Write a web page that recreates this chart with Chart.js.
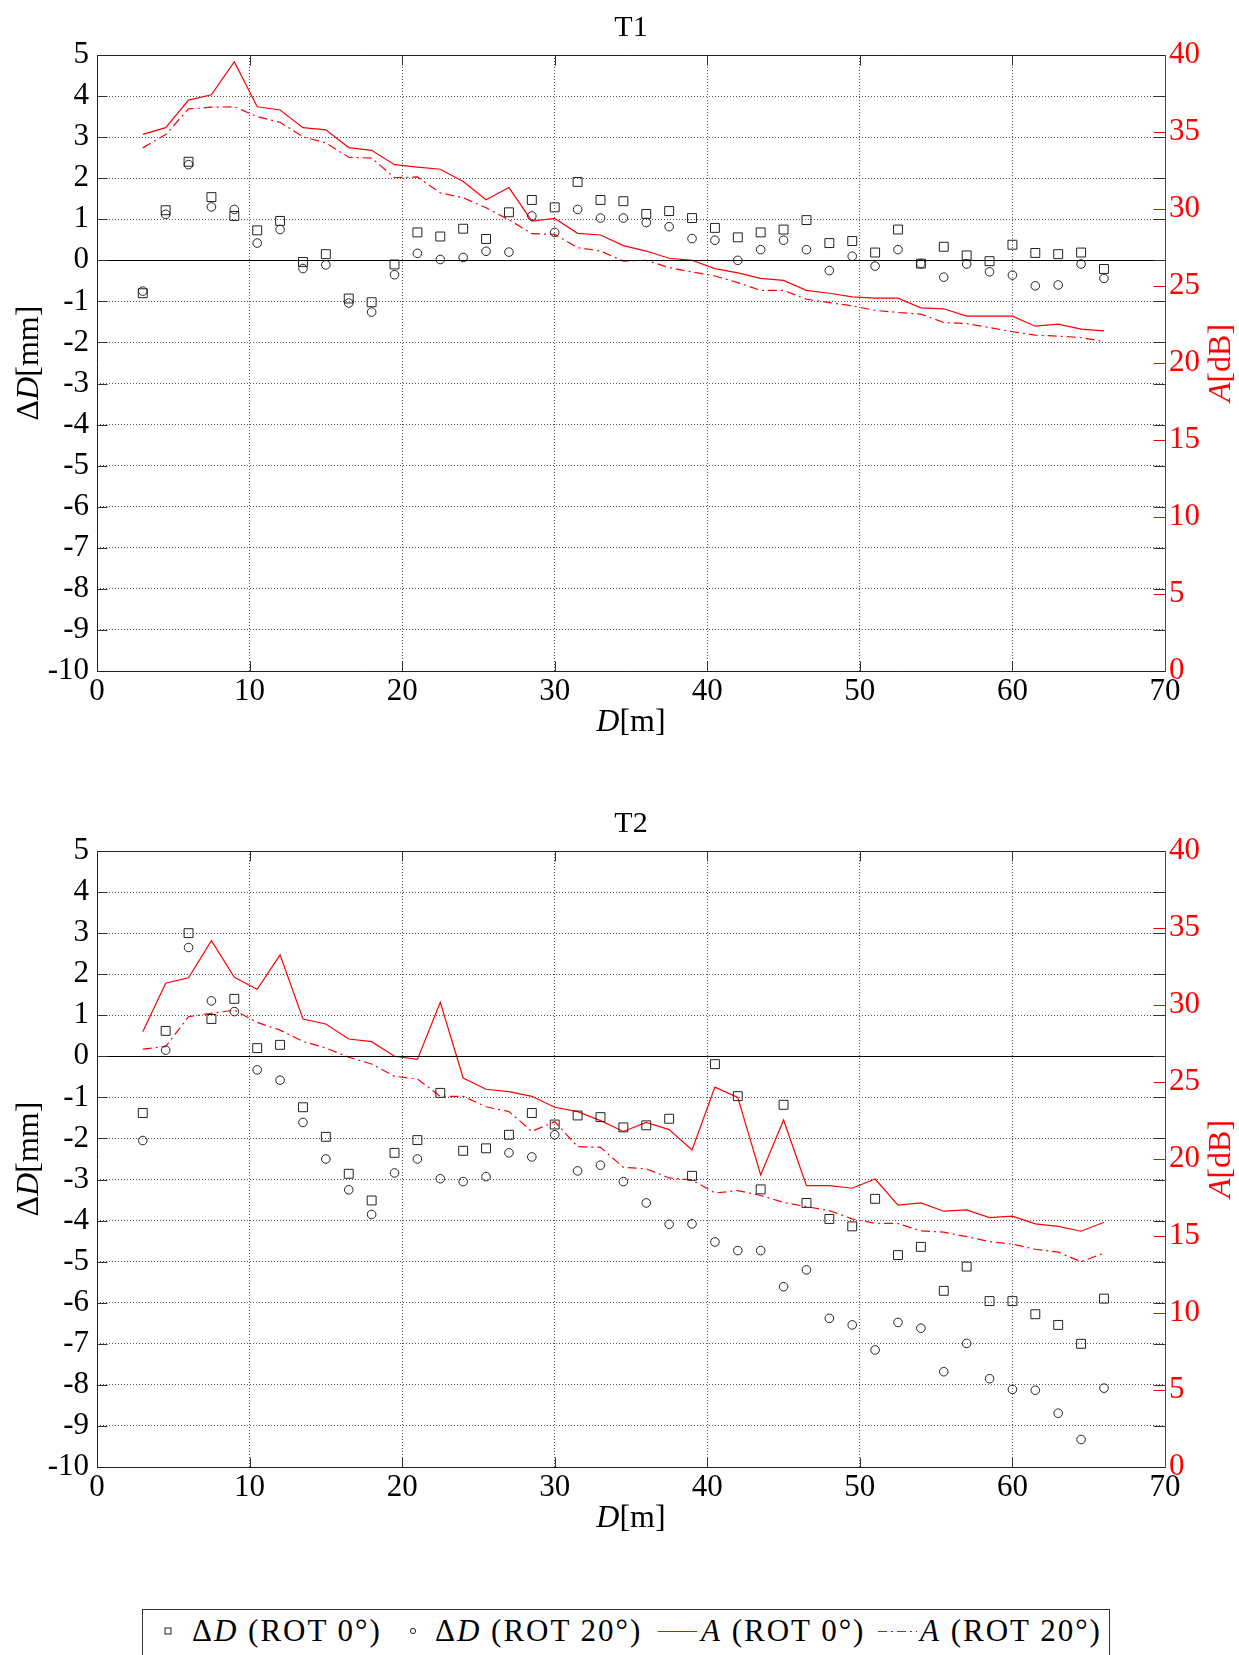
<!DOCTYPE html>
<html>
<head>
<meta charset="utf-8">
<title>T1 / T2 - ΔD and A versus D</title>
<script src="https://cdn.jsdelivr.net/npm/chart.js@4.4.1/dist/chart.umd.min.js"></script>
<style>
  body {
    margin: 0;
    background: #fff;
    width: 1239px;
    height: 1655px;
    position: relative;
    overflow: hidden;
    font-family: "Liberation Serif", serif;
  }
  canvas { position: absolute; left: 0; }
  #chartT1 { top: 0; }
  #chartT2 { top: 796px; }
  .legend {
    position: absolute;
    left: 142px;
    top: 1609px;
    width: 966px;
    height: 50px;
    border: 1px solid #333;
    background: #fff;
  }
  .legend span {
    position: absolute;
    top: 0;
    line-height: 42px;
    font-size: 31px;
    letter-spacing: 2px;
    white-space: nowrap;
    color: #000;
    font-family: "Liberation Serif", serif;
  }
  .legend svg { position: absolute; top: 11px; }
</style>
</head>
<body>
<canvas id="chartT1" width="1239" height="780"></canvas>
<canvas id="chartT2" width="1239" height="780"></canvas>

<div class="legend">
  <svg style="left:17px" width="16" height="20"><rect x="5" y="7" width="6" height="6" fill="none" stroke="#222" stroke-width="1"/></svg>
  <span style="left:49px">Δ<i>D</i> (ROT 0°)</span>
  <svg style="left:262px" width="16" height="20"><circle cx="8" cy="10" r="2.6" fill="none" stroke="#222" stroke-width="1"/></svg>
  <span style="left:292px">Δ<i>D</i> (ROT 20°)</span>
  <svg style="left:515px" width="40" height="20"><line x1="0" y1="10.5" x2="39" y2="10.5" stroke="#ff0000" stroke-width="1.2"/></svg>
  <span style="left:558px"><i>A</i> (ROT 0°)</span>
  <svg style="left:735px" width="40" height="20"><line x1="0" y1="10.5" x2="39" y2="10.5" stroke="#ff0000" stroke-width="1.2" stroke-dasharray="9,4,2,4"/></svg>
  <span style="left:777px"><i>A</i> (ROT 20°)</span>
</div>

<script>
/* ---------- Data ---------- */
const distances = [3, 4.5, 6, 7.5, 9, 10.5, 12, 13.5, 15, 16.5, 18, 19.5, 21, 22.5, 24, 25.5, 27,
  28.5, 30, 31.5, 33, 34.5, 36, 37.5, 39, 40.5, 42, 43.5, 45, 46.5, 48, 49.5, 51, 52.5,
  54, 55.5, 57, 58.5, 60, 61.5, 63, 64.5, 66];

// T1: ΔD [mm]
const t1DeltaRot0 = [-0.80, 1.22, 2.40, 1.54, 1.08, 0.73, 0.96, -0.04, 0.15, -0.93,
  -1.02, -0.10, 0.68, 0.58, 0.77, 0.52, 1.17, 1.47, 1.29, 1.91,
  1.47, 1.44, 1.13, 1.20, 1.03, 0.79, 0.56, 0.68, 0.75, 0.98,
  0.42, 0.47, 0.19, 0.75, -0.08, 0.33, 0.12, -0.02, 0.38, 0.18,
  0.15, 0.19, -0.21];
const t1DeltaRot20 = [-0.75, 1.12, 2.33, 1.30, 1.24, 0.42, 0.75, -0.20, -0.11, -1.04,
  -1.26, -0.35, 0.17, 0.02, 0.07, 0.22, 0.20, 1.08, 0.68, 1.24,
  1.03, 1.03, 0.92, 0.82, 0.53, 0.49, 0.00, 0.26, 0.49, 0.26,
  -0.25, 0.10, -0.14, 0.26, -0.08, -0.41, -0.09, -0.28, -0.36, -0.62,
  -0.60, -0.09, -0.44];
// T1: A [dB]
const t1AmpRot0 = [34.85, 35.28, 37.07, 37.42, 39.57, 36.64, 36.43, 35.28, 35.14, 33.99,
  33.81, 32.88, 32.72, 32.58, 31.79, 30.60, 31.39, 29.22, 29.39, 28.42,
  28.31, 27.62, 27.27, 26.80, 26.67, 26.13, 25.85, 25.50, 25.36, 24.72,
  24.53, 24.29, 24.21, 24.21, 23.58, 23.52, 23.04, 23.04, 23.04, 22.39,
  22.52, 22.20, 22.09];
const t1AmpRot20 = [33.97, 34.83, 36.50, 36.61, 36.64, 36.00, 35.63, 34.69, 34.29, 33.36,
  33.31, 32.03, 32.08, 31.05, 30.73, 30.08, 29.30, 28.40, 28.35, 27.49,
  27.27, 26.62, 26.67, 26.19, 25.91, 25.65, 25.22, 24.72, 24.72, 24.14,
  23.92, 23.71, 23.42, 23.28, 23.17, 22.63, 22.56, 22.30, 22.03, 21.81,
  21.74, 21.65, 21.39];

// T2: ΔD [mm]
const t2DeltaRot0 = [-1.38, 0.62, 3.00, 0.91, 1.40, 0.20, 0.28, -1.24, -1.96, -2.86,
  -3.51, -2.35, -2.04, -0.89, -2.30, -2.24, -1.91, -1.38, -1.66, -1.44,
  -1.48, -1.73, -1.68, -1.52, -2.91, -0.19, -0.97, -3.24, -1.18, -3.57,
  -3.96, -4.14, -3.47, -4.84, -4.64, -5.71, -5.12, -5.96, -5.96, -6.28,
  -6.54, -7.00, -5.90];
const t2DeltaRot20 = [-2.05, 0.15, 2.65, 1.35, 1.09, -0.33, -0.58, -1.61, -2.50, -3.25,
  -3.85, -2.84, -2.50, -2.98, -3.05, -2.93, -2.35, -2.45, -1.91, -2.79,
  -2.65, -3.05, -3.57, -4.09, -4.08, -4.52, -4.73, -4.73, -5.61, -5.20,
  -6.38, -6.54, -7.15, -6.48, -6.62, -7.68, -6.99, -7.85, -8.11, -8.13,
  -8.69, -9.33, -8.08];
// T2: A [dB]
const t2AmpRot0 = [28.27, 31.41, 31.77, 34.18, 31.80, 31.02, 33.26, 29.09, 28.77, 27.79,
  27.62, 26.67, 26.47, 30.17, 25.26, 24.53, 24.37, 24.07, 23.36, 23.08,
  22.49, 21.79, 22.37, 21.91, 20.59, 24.67, 24.00, 18.96, 22.53, 18.27,
  18.27, 18.10, 18.70, 17.00, 17.15, 16.61, 16.69, 16.19, 16.29, 15.79,
  15.62, 15.31, 15.89];
const t2AmpRot20 = [27.14, 27.30, 29.24, 29.46, 29.67, 28.87, 28.37, 27.64, 27.21, 26.61,
  26.17, 25.37, 25.20, 24.07, 24.07, 23.39, 23.08, 21.79, 22.43, 20.80,
  20.76, 19.46, 19.36, 18.77, 18.64, 17.79, 17.95, 17.63, 17.18, 16.91,
  16.65, 16.11, 15.83, 15.81, 15.33, 15.25, 14.96, 14.64, 14.47, 14.14,
  13.95, 13.33, 13.89];

// Tick values
const xTicks = [0, 10, 20, 30, 40, 50, 60, 70];
const mmTicks = [-10, -9, -8, -7, -6, -5, -4, -3, -2, -1, 0, 1, 2, 3, 4, 5];
const dbTicks = [0, 5, 10, 15, 20, 25, 30, 35, 40];

/* ---------- Style ---------- */
const FONT = '"Liberation Serif", serif';
const RED = "#ff0000";
const GRID = "#555";

function toPoints(values) {
  return distances.map((d, i) => ({ x: d, y: values[i] }));
}

function drawLine(ctx, x1, y1, x2, y2) {
  ctx.beginPath();
  ctx.moveTo(x1, y1);
  ctx.lineTo(x2, y2);
  ctx.stroke();
}

// text made of plain and italic pieces, centred on (cx, cy)
function drawRich(ctx, parts, cx, cy, size, color, rotation) {
  ctx.save();
  ctx.translate(cx, cy);
  ctx.rotate(rotation || 0);
  ctx.fillStyle = color;
  ctx.textBaseline = "middle";
  ctx.textAlign = "left";
  let total = 0;
  parts.forEach((p) => {
    ctx.font = `${p.italic ? "italic " : ""}${size}px ${FONT}`;
    p.w = ctx.measureText(p.text).width;
    total += p.w;
  });
  let x = -total / 2;
  parts.forEach((p) => {
    ctx.font = `${p.italic ? "italic " : ""}${size}px ${FONT}`;
    ctx.fillText(p.text, x, 0);
    x += p.w;
  });
  ctx.restore();
}

/* ---------- Frame, inner ticks and labels ---------- */
const matlabFrame = {
  id: "matlabFrame",
  afterDraw(chart, args, opts) {
    const { ctx, chartArea: a, scales } = chart;
    const px = (v) => Math.round(scales.x.getPixelForValue(v)) + 0.5;
    const pyL = (v) => Math.round(scales.y.getPixelForValue(v)) + 0.5;
    const pyR = (v) => Math.round(scales.y2.getPixelForValue(v)) + 0.5;
    const L = Math.round(a.left) + 0.5;
    const R = Math.round(a.right) + 0.5;
    const T = Math.round(a.top) + 0.5;
    const B = Math.round(a.bottom) + 0.5;

    ctx.save();
    ctx.lineWidth = 1;

    // zero line
    ctx.strokeStyle = "#000";
    drawLine(ctx, L, pyL(0), R, pyL(0));

    // inward ticks
    ctx.strokeStyle = "#333";
    mmTicks.forEach((v) => {
      drawLine(ctx, L, pyL(v), L + 10, pyL(v));
      drawLine(ctx, R - 12, pyL(v), R, pyL(v));
    });
    xTicks.forEach((v) => {
      drawLine(ctx, px(v), T, px(v), T + 10);
      drawLine(ctx, px(v), B, px(v), B - 10);
    });
    ctx.strokeStyle = RED;
    dbTicks.forEach((v) => drawLine(ctx, R - 12, pyR(v), R, pyR(v)));

    // box
    ctx.strokeStyle = "#222";
    drawLine(ctx, L, T, R, T);
    drawLine(ctx, L, T, L, B);
    drawLine(ctx, L, B, R, B);
    ctx.strokeStyle = RED;
    drawLine(ctx, R, T - 0.5, R, B + 0.5);

    const midX = (a.left + a.right) / 2;
    const midY = (a.top + a.bottom) / 2;

    // title
    drawRich(ctx, [{ text: opts.title }], midX, 28, 30, "#000");
    // axis titles
    drawRich(ctx, [{ text: "Δ" }, { text: "D", italic: true }, { text: "[mm]" }],
      30, midY, 32, "#000", -Math.PI / 2);
    drawRich(ctx, [{ text: "A", italic: true }, { text: "[dB]" }],
      1222, midY, 32, RED, -Math.PI / 2);
    drawRich(ctx, [{ text: "D", italic: true }, { text: "[m]" }],
      midX, a.bottom + 52, 32, "#000");

    ctx.restore();
  }
};

/* ---------- Chart builder ---------- */
function makeChart(canvasId, title, deltaRot0, deltaRot20, ampRot0, ampRot20) {
  const tickFont = { family: FONT, size: 31 };

  return new Chart(document.getElementById(canvasId), {
    type: "scatter",
    data: {
      datasets: [
        {
          label: "ΔD (ROT 0°)",
          data: toPoints(deltaRot0),
          yAxisID: "y",
          pointStyle: "rect",
          pointRadius: 6.3,
          borderColor: "#222",
          backgroundColor: "rgba(0,0,0,0)",
          borderWidth: 1
        },
        {
          label: "ΔD (ROT 20°)",
          data: toPoints(deltaRot20),
          yAxisID: "y",
          pointStyle: "circle",
          pointRadius: 4.3,
          borderColor: "#222",
          backgroundColor: "rgba(0,0,0,0)",
          borderWidth: 1
        },
        {
          type: "line",
          label: "A (ROT 0°)",
          data: toPoints(ampRot0),
          yAxisID: "y2",
          borderColor: RED,
          borderWidth: 1.2,
          pointRadius: 0,
          tension: 0,
          fill: false
        },
        {
          type: "line",
          label: "A (ROT 20°)",
          data: toPoints(ampRot20),
          yAxisID: "y2",
          borderColor: RED,
          borderWidth: 1.2,
          borderDash: [9, 4, 2, 4],
          pointRadius: 0,
          tension: 0,
          fill: false
        }
      ]
    },
    options: {
      responsive: false,
      animation: false,
      layout: { padding: { top: 55, left: 0, right: 0, bottom: 0 } },
      plugins: {
        legend: { display: false },
        tooltip: { enabled: false },
        matlabFrame: { title: title }
      },
      scales: {
        x: {
          type: "linear",
          min: 0,
          max: 70,
          afterBuildTicks: (scale) => { scale.ticks = xTicks.map((v) => ({ value: v })); },
          afterFit: (scale) => { scale.height = 109; },
          ticks: { color: "#000", font: tickFont, padding: 2, autoSkip: false, maxRotation: 0 },
          grid: { color: GRID, lineWidth: 1, drawTicks: false },
          border: { display: false, dash: [1, 2] }
        },
        y: {
          position: "left",
          min: -10,
          max: 5,
          afterBuildTicks: (scale) => { scale.ticks = mmTicks.map((v) => ({ value: v })); },
          afterFit: (scale) => { scale.width = 97; },
          ticks: { color: "#000", font: tickFont, padding: 8, autoSkip: false },
          grid: { color: GRID, lineWidth: 1, drawTicks: false },
          border: { display: false, dash: [1, 2] }
        },
        y2: {
          position: "right",
          min: 0,
          max: 40,
          afterBuildTicks: (scale) => { scale.ticks = dbTicks.map((v) => ({ value: v })); },
          afterFit: (scale) => { scale.width = 74; },
          ticks: { color: RED, font: tickFont, padding: 4, autoSkip: false },
          grid: { drawOnChartArea: false, drawTicks: false },
          border: { display: false }
        }
      }
    },
    plugins: [matlabFrame]
  });
}

makeChart("chartT1", "T1", t1DeltaRot0, t1DeltaRot20, t1AmpRot0, t1AmpRot20);
makeChart("chartT2", "T2", t2DeltaRot0, t2DeltaRot20, t2AmpRot0, t2AmpRot20);
</script>
</body>
</html>
